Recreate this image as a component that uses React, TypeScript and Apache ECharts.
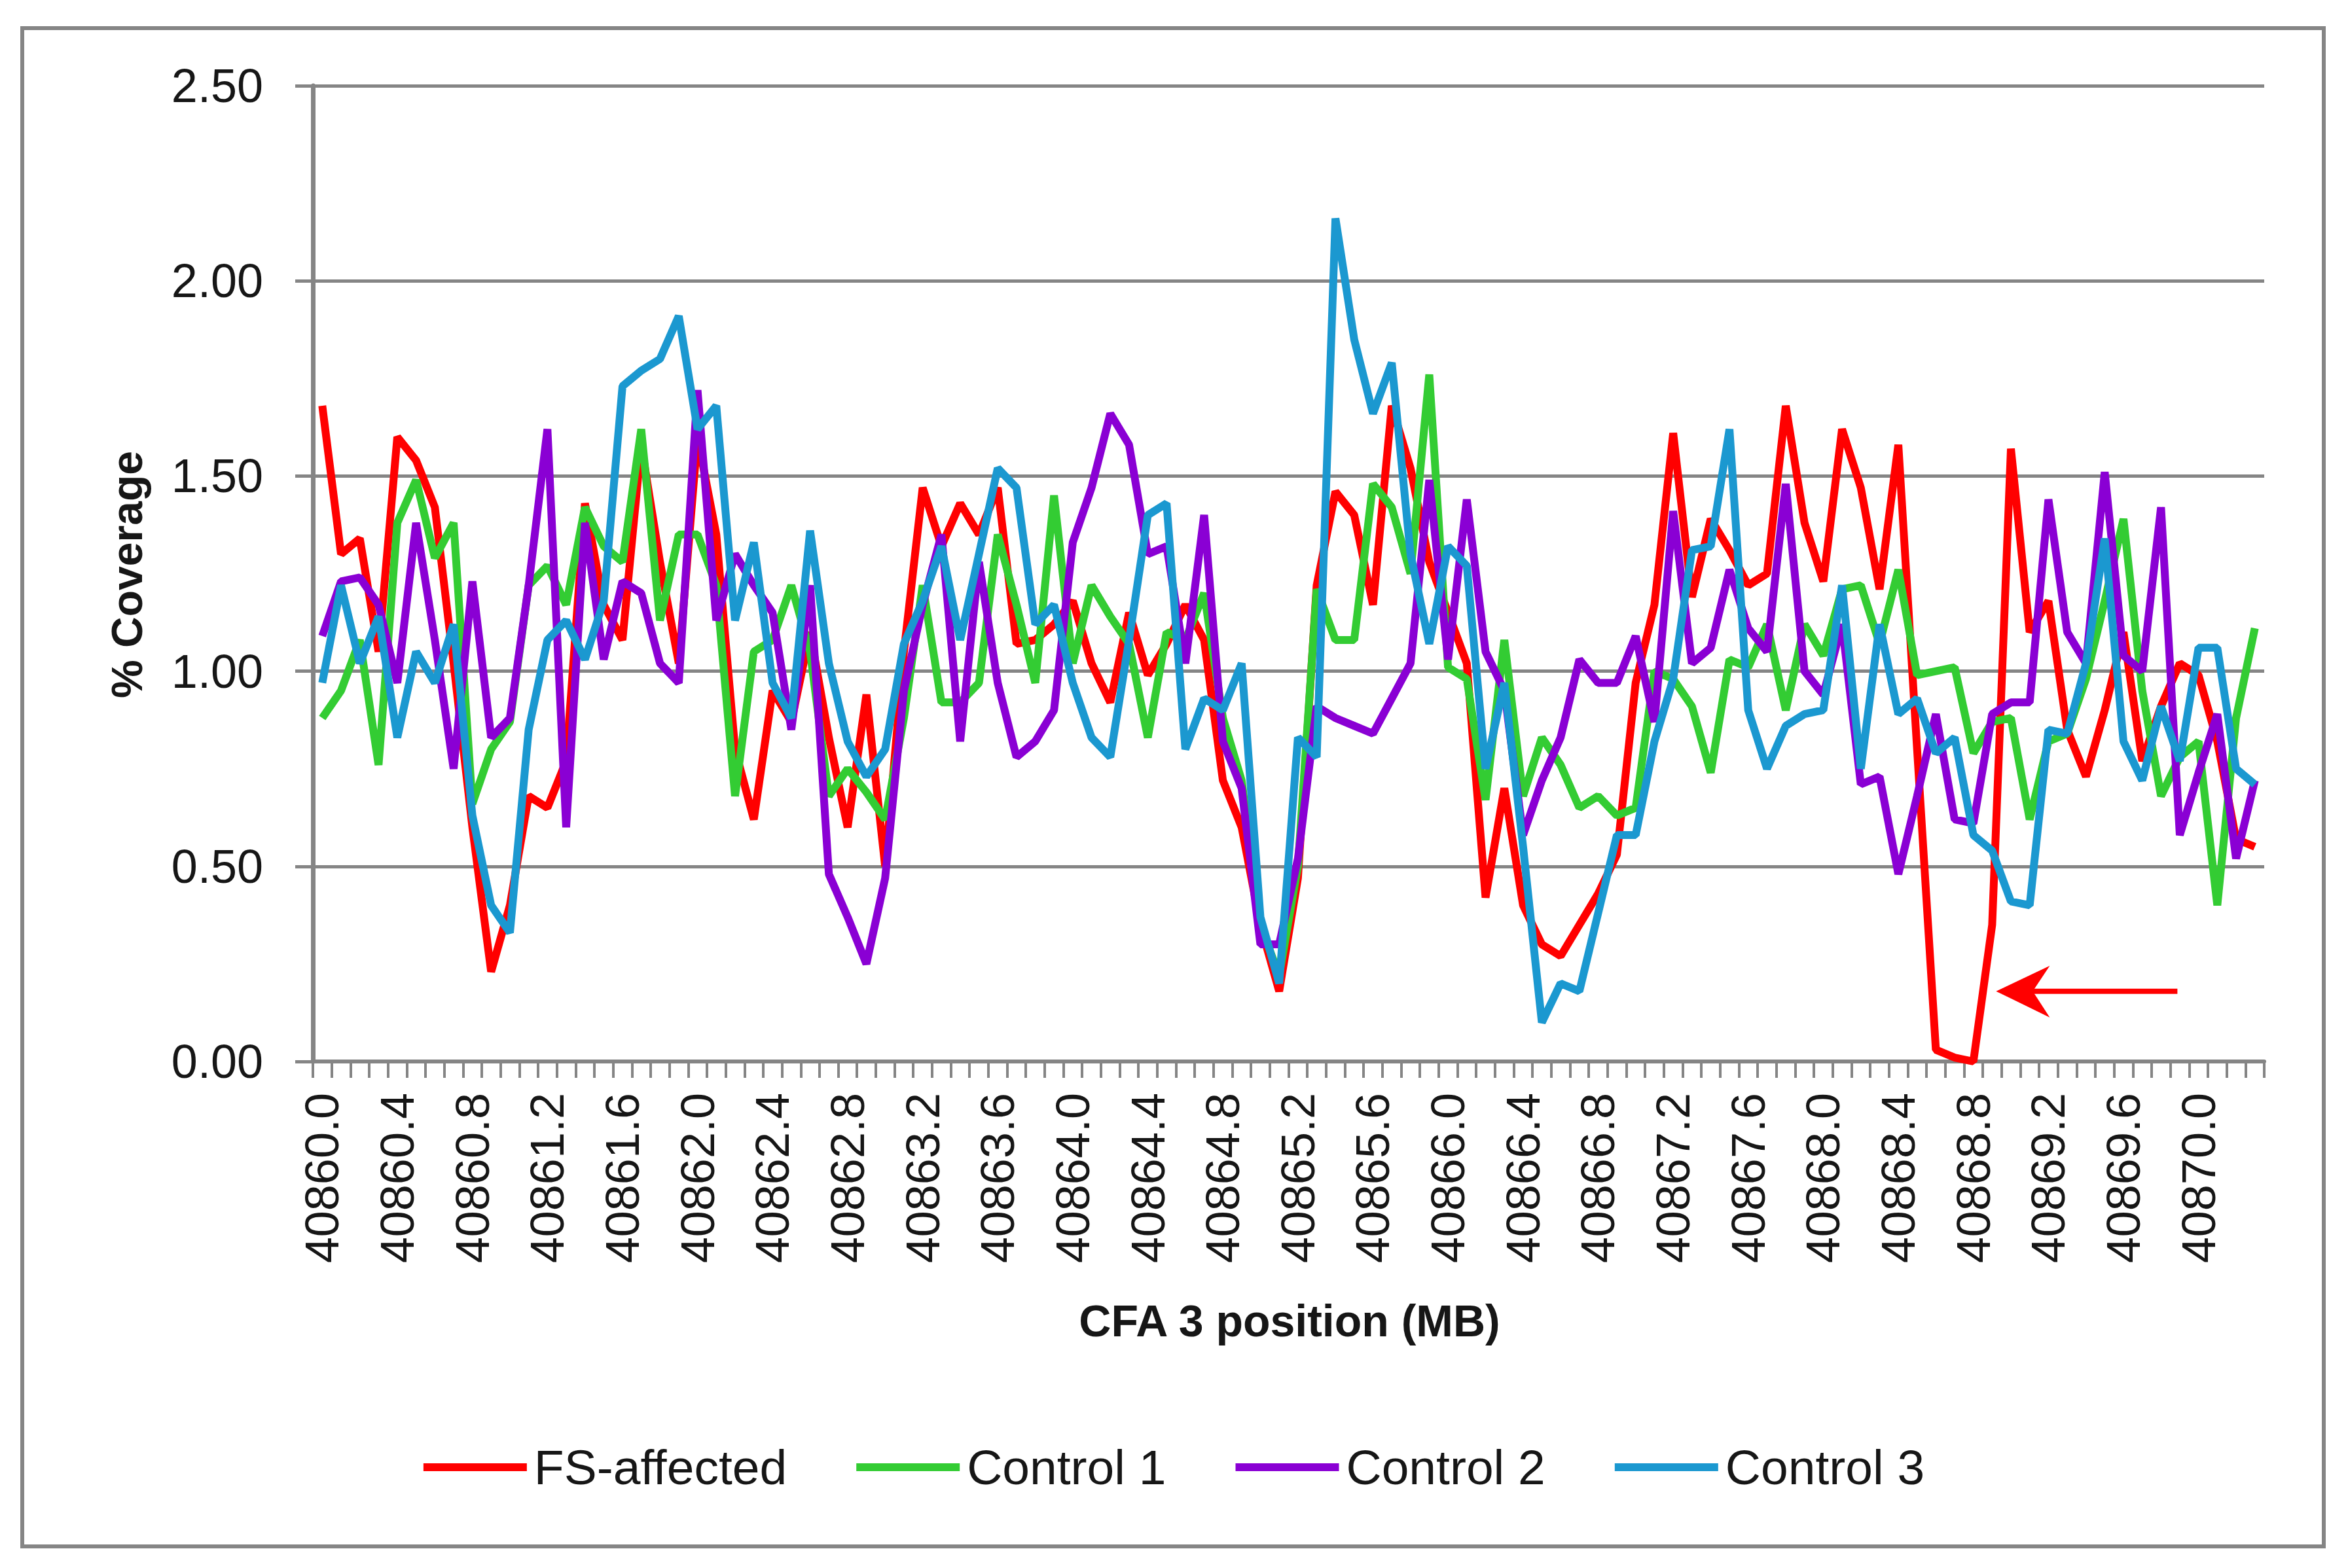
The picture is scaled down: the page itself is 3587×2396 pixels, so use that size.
import React, { useEffect, useRef } from "react";
import * as echarts from "echarts";

const START = 40860.0;
const STEP = 0.1;
const COUNT = 104;
const categories: string[] = [];
for (let i = 0; i < COUNT; i++) categories.push((START + STEP * i).toFixed(1));

const yTicks = [0, 0.5, 1.0, 1.5, 2.0, 2.5];

const seriesNames = ["FS-affected", "Control 1", "Control 2", "Control 3"];
const seriesColors = ["#FF0000", "#33CC33", "#8A00D4", "#1B98D0"];

const fsAffected = [
  1.68, 1.30, 1.34, 1.05, 1.60, 1.54, 1.42, 1.02, 0.60, 0.23,
  0.40, 0.68, 0.65, 0.77, 1.43, 1.17, 1.08, 1.58, 1.28, 1.02,
  1.60, 1.35, 0.80, 0.62, 0.95, 0.87, 1.10, 0.83, 0.60, 0.94,
  0.50, 1.05, 1.47, 1.32, 1.43, 1.35, 1.47, 1.07, 1.08, 1.12,
  1.18, 1.02, 0.92, 1.15, 0.99, 1.07, 1.17, 1.08, 0.72, 0.60,
  0.35, 0.18, 0.47, 1.22, 1.46, 1.40, 1.17, 1.68, 1.52, 1.28,
  1.15, 1.02, 0.42, 0.70, 0.40, 0.30, 0.27, 0.35, 0.43, 0.53,
  0.97, 1.17, 1.61, 1.19, 1.39, 1.31, 1.22, 1.25, 1.68, 1.38,
  1.23, 1.62, 1.47, 1.21, 1.58, 0.80, 0.03, 0.01, 0.00, 0.35,
  1.57, 1.10, 1.18, 0.85, 0.73, 0.90, 1.10, 0.77, 0.91, 1.02,
  0.99, 0.82, 0.57, 0.55,
];

const control1 = [
  0.88, 0.95, 1.08, 0.76, 1.38, 1.49, 1.29, 1.38, 0.66, 0.80,
  0.87, 1.22, 1.27, 1.17, 1.42, 1.32, 1.28, 1.62, 1.13, 1.35,
  1.35, 1.22, 0.68, 1.05, 1.08, 1.22, 1.05, 0.68, 0.75, 0.69,
  0.62, 0.88, 1.22, 0.92, 0.92, 0.97, 1.35, 1.17, 0.97, 1.45,
  1.02, 1.22, 1.14, 1.07, 0.83, 1.10, 1.08, 1.20, 0.88, 0.72,
  0.35, 0.22, 0.50, 1.21, 1.08, 1.08, 1.48, 1.42, 1.25, 1.76,
  1.01, 0.98, 0.67, 1.08, 0.68, 0.83, 0.76, 0.65, 0.68, 0.63,
  0.65, 1.00, 0.98, 0.91, 0.74, 1.03, 1.01, 1.12, 0.90, 1.12,
  1.04, 1.21, 1.22, 1.07, 1.26, 0.99, 1.00, 1.01, 0.79, 0.87,
  0.88, 0.62, 0.82, 0.84, 0.98, 1.18, 1.39, 0.95, 0.68, 0.78,
  0.82, 0.40, 0.88, 1.11,
];

const control2 = [
  1.09, 1.23, 1.24, 1.17, 0.97, 1.38, 1.08, 0.75, 1.23, 0.83,
  0.88, 1.22, 1.62, 0.60, 1.38, 1.03, 1.23, 1.20, 1.02, 0.97,
  1.72, 1.13, 1.30, 1.22, 1.15, 0.85, 1.22, 0.48, 0.37, 0.25,
  0.47, 0.95, 1.17, 1.35, 0.82, 1.28, 0.97, 0.78, 0.82, 0.90,
  1.33, 1.47, 1.66, 1.58, 1.30, 1.32, 1.02, 1.40, 0.82, 0.70,
  0.30, 0.30, 0.52, 0.91, 0.88, 0.86, 0.84, 0.93, 1.02, 1.49,
  1.03, 1.44, 1.05, 0.95, 0.58, 0.72, 0.83, 1.03, 0.97, 0.97,
  1.09, 0.87, 1.41, 1.02, 1.06, 1.26, 1.11, 1.05, 1.48, 1.00,
  0.94, 1.12, 0.71, 0.73, 0.48, 0.68, 0.89, 0.62, 0.61, 0.89,
  0.92, 0.92, 1.44, 1.10, 1.02, 1.51, 1.04, 1.00, 1.42, 0.58,
  0.74, 0.89, 0.52, 0.72,
];

const control3 = [
  0.97, 1.22, 1.02, 1.14, 0.83, 1.05, 0.97, 1.12, 0.63, 0.40,
  0.33, 0.85, 1.08, 1.13, 1.03, 1.18, 1.73, 1.77, 1.80, 1.91,
  1.62, 1.68, 1.13, 1.33, 0.97, 0.88, 1.36, 1.02, 0.82, 0.73,
  0.80, 1.07, 1.18, 1.32, 1.08, 1.30, 1.52, 1.47, 1.12, 1.17,
  0.97, 0.83, 0.78, 1.08, 1.40, 1.43, 0.80, 0.93, 0.90, 1.02,
  0.37, 0.20, 0.83, 0.78, 2.16, 1.85, 1.66, 1.79, 1.30, 1.07,
  1.32, 1.27, 0.75, 0.97, 0.55, 0.10, 0.20, 0.18, 0.38, 0.58,
  0.58, 0.82, 0.98, 1.31, 1.32, 1.62, 0.90, 0.75, 0.86, 0.89,
  0.90, 1.22, 0.75, 1.12, 0.89, 0.93, 0.79, 0.83, 0.58, 0.54,
  0.41, 0.40, 0.85, 0.84, 1.02, 1.34, 0.82, 0.72, 0.91, 0.77,
  1.06, 1.06, 0.75, 0.71,
];

const seriesData = [fsAffected, control1, control2, control3];

// annotation arrow target (category index, value)
const arrowTarget = { index: 89, value: 0.18 };

const W = 3587;
const H = 2396;
const FONT = "'Liberation Sans', Arial, sans-serif";
const GRAY = "#858585";
const TEXT = "#161616";

export default function App() {
  const ref = useRef<HTMLDivElement>(null);

  useEffect(() => {
    document.body.style.margin = "0";
    if (!ref.current) return;
    const chart = echarts.init(ref.current, null, { renderer: "svg", width: W, height: H });

    const option: any = {
      animation: false,
      backgroundColor: "#ffffff",
      grid: { left: 478, top: 131, right: W - 3459, bottom: H - 1622, containLabel: false },
      legend: {
        data: seriesNames,
        left: "center",
        top: 2197,
        icon: "rect",
        itemWidth: 158,
        itemHeight: 12,
        itemGap: 106,
        textStyle: {
          fontFamily: FONT,
          fontSize: 75,
          color: TEXT,
          lineHeight: 80,
          padding: [0, 0, 0, 6],
        },
      },
      xAxis: {
        type: "category",
        data: categories,
        boundaryGap: true,
        axisLine: { show: true, lineStyle: { color: GRAY, width: 6 } },
        axisTick: { show: true, interval: 0, length: 25, lineStyle: { color: GRAY, width: 4 } },
        axisLabel: {
          interval: 3,
          rotate: 90,
          fontFamily: FONT,
          fontSize: 72,
          color: TEXT,
          margin: 48,
        },
        splitLine: { show: false },
      },
      yAxis: {
        type: "value",
        min: yTicks[0],
        max: yTicks[yTicks.length - 1],
        interval: 0.5,
        axisLine: { show: true, lineStyle: { color: GRAY, width: 7 } },
        axisTick: { show: true, length: 27, lineStyle: { color: GRAY, width: 5 } },
        axisLabel: {
          fontFamily: FONT,
          fontSize: 72,
          color: TEXT,
          margin: 76,
          formatter: (v: number) => v.toFixed(2),
        },
        splitLine: { show: true, lineStyle: { color: GRAY, width: 5 } },
      },
      series: seriesNames.map((name, k) => ({
        name,
        type: "line",
        data: seriesData[k],
        symbol: "none",
        color: seriesColors[k],
        lineStyle: { color: seriesColors[k], width: 12 },
        itemStyle: { color: seriesColors[k] },
        z: 2 + k,
      })),
    };

    chart.setOption(option);

    const tip = chart.convertToPixel({ xAxisIndex: 0, yAxisIndex: 0 }, [
      arrowTarget.index,
      arrowTarget.value,
    ]) as number[];
    const tx = tip[0] + 6;
    const ty = tip[1];

    chart.setOption({
      graphic: [
        {
          type: "rect",
          shape: { x: 34, y: 43, width: 3550 - 34, height: 2363 - 43 },
          style: { fill: "none", stroke: GRAY, lineWidth: 6 },
          silent: true,
          z: 0,
        },
        {
          type: "text",
          x: 194,
          y: 878,
          rotation: Math.PI / 2,
          style: {
            text: "% Coverage",
            fontFamily: FONT,
            fontSize: 66,
            fontWeight: "bold",
            fill: TEXT,
            textAlign: "center",
            textVerticalAlign: "middle",
          },
        },
        {
          type: "text",
          x: 1970,
          y: 2018,
          style: {
            text: "CFA 3 position (MB)",
            fontFamily: FONT,
            fontSize: 68,
            fontWeight: "bold",
            fill: TEXT,
            textAlign: "center",
            textVerticalAlign: "middle",
          },
        },
        {
          type: "line",
          shape: { x1: tx + 50, y1: ty, x2: tx + 277, y2: ty },
          style: { stroke: "#FF0000", lineWidth: 8 },
          z: 20,
        },
        {
          type: "polygon",
          shape: {
            points: [
              [tx, ty],
              [tx + 82, ty - 39],
              [tx + 56, ty],
              [tx + 82, ty + 40],
            ],
          },
          style: { fill: "#FF0000" },
          z: 20,
        },
      ],
    });

    return () => {
      chart.dispose();
    };
  }, []);

  return (
    <div
      ref={ref}
      style={{ position: "fixed", left: 0, top: 0, width: W, height: H, background: "#fff" }}
    />
  );
}
